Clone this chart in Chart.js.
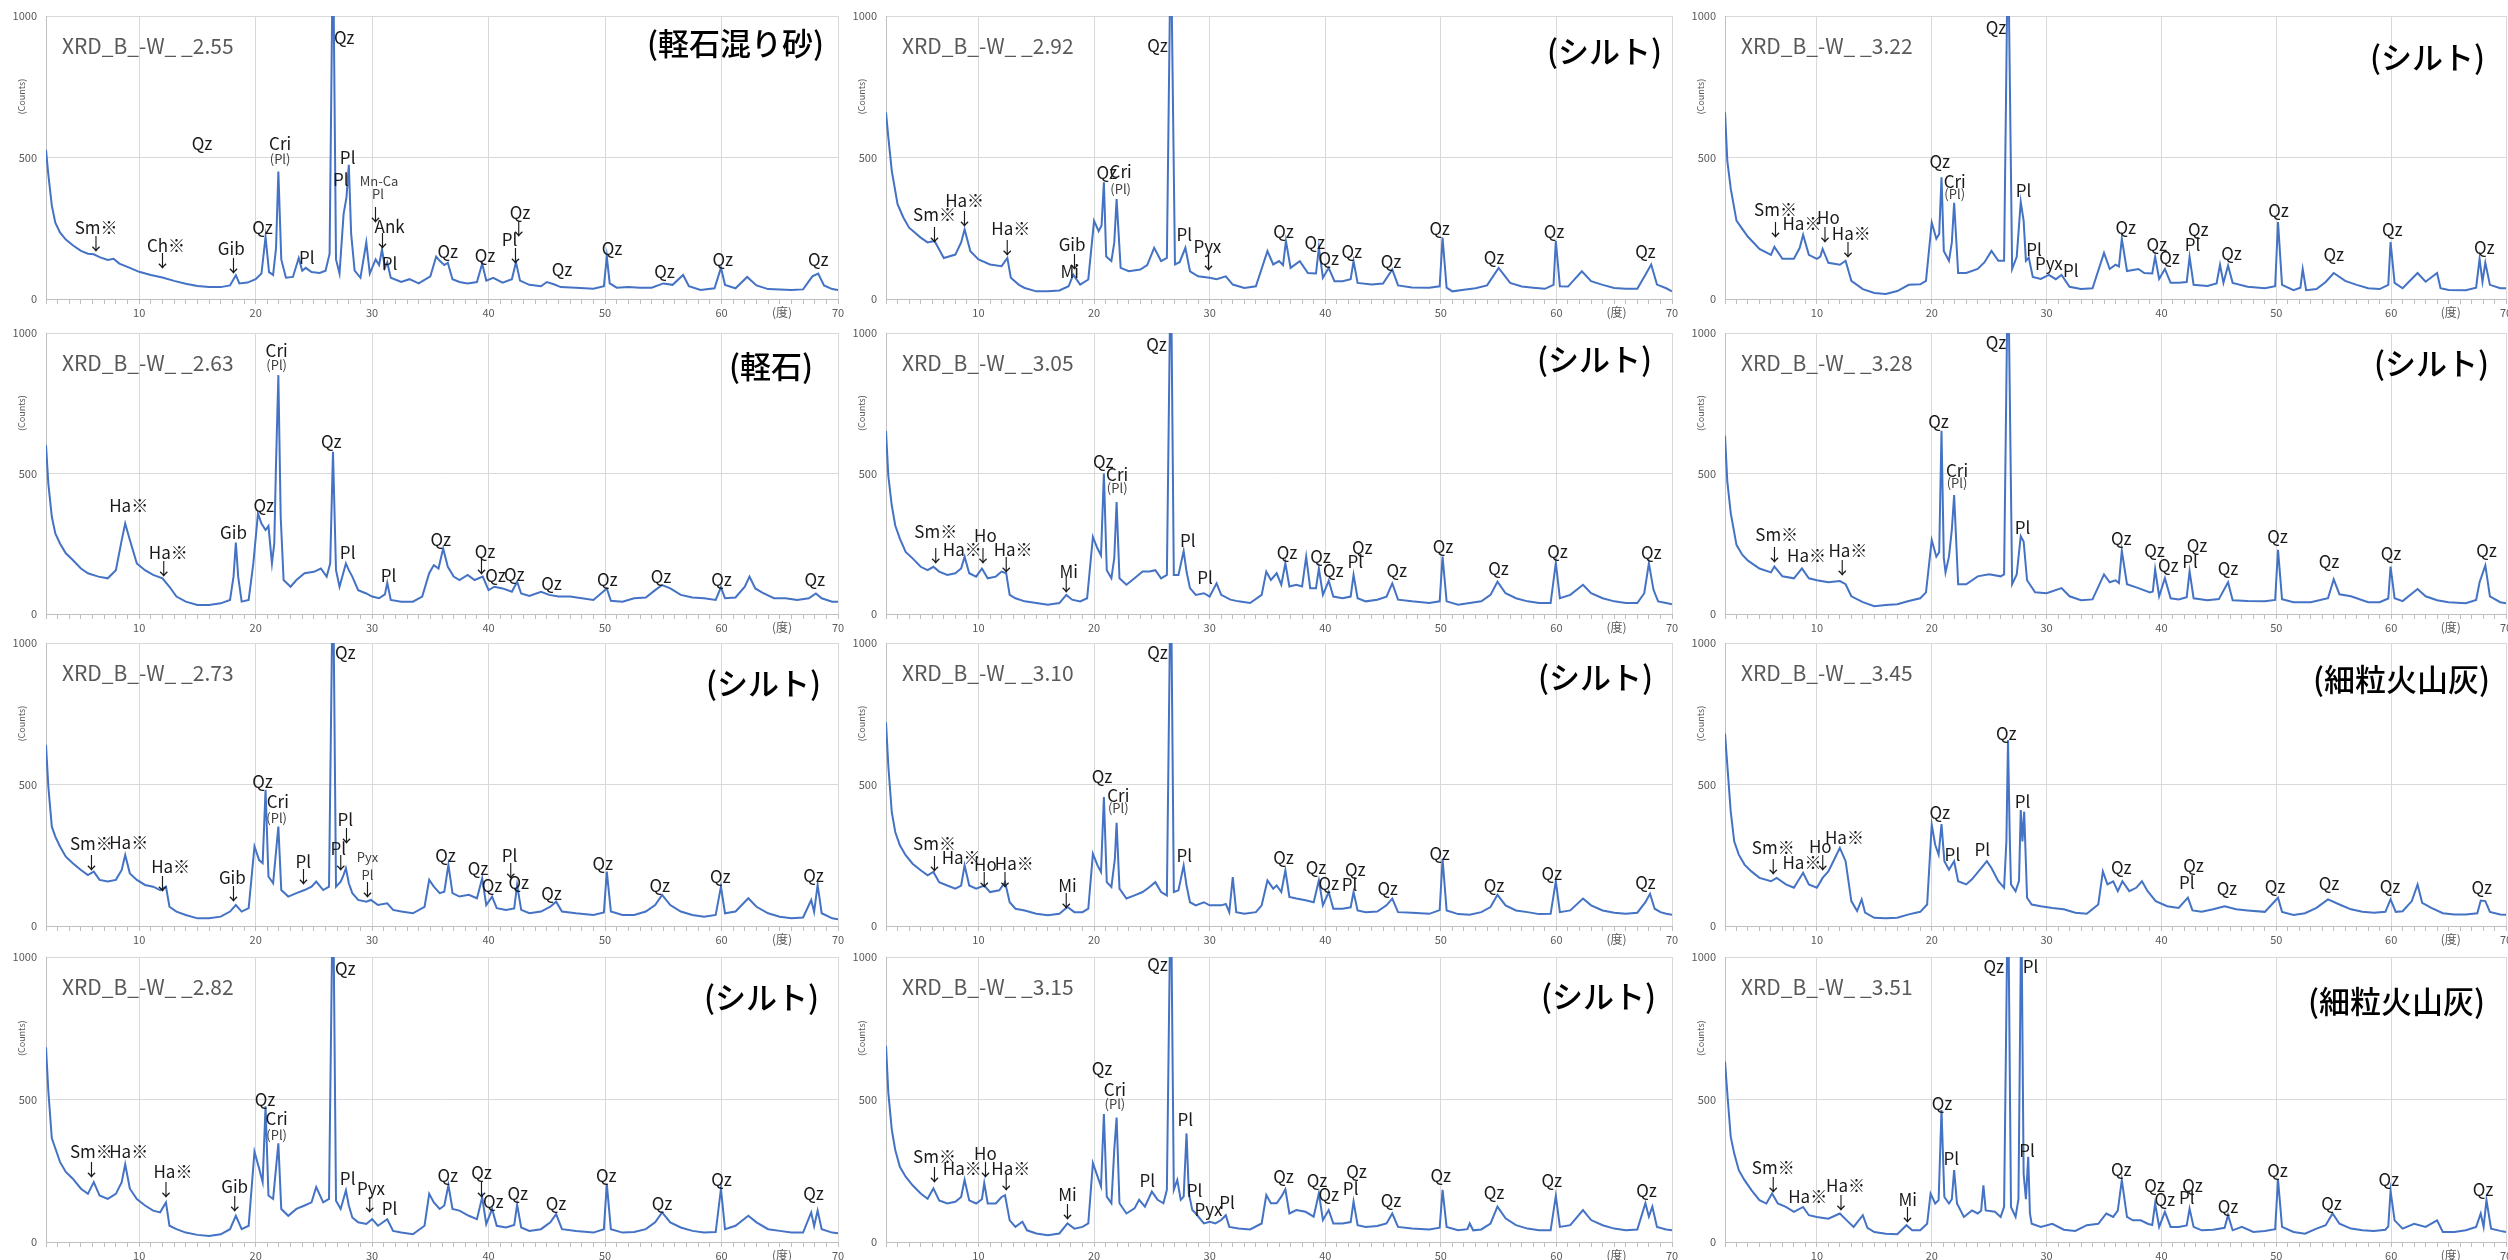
<!DOCTYPE html>
<html>
<head>
<meta charset="utf-8">
<script src="https://cdn.jsdelivr.net/npm/chart.js@4.4.1/dist/chart.umd.min.js"></script>
<style>
html, body { margin: 0; padding: 0; background: #fff; width: 2508px; height: 1260px; overflow: hidden; }
canvas { position: absolute; }
</style>
</head>
<body>
<script>
// tick labels
const xMajorTicks = [10, 20, 30, 40, 50, 60, 70];
const yTicks = [0, 500, 1000];

// sample ids and soil names (column by column)
const sampleIds = ['2.55', '2.63', '2.73', '2.82', '2.92', '3.05', '3.10', '3.15', '3.22', '3.28', '3.45', '3.51'];
const soilNames = ['(軽石混り砂)', '(軽石)', '(シルト)', '(シルト)', '(シルト)', '(シルト)', '(シルト)', '(シルト)', '(シルト)', '(シルト)', '(細粒火山灰)', '(細粒火山灰)'];

// diffraction patterns: [2theta (deg), counts]
const xrd_255 = [[2,527],[2.2,440],[2.5,330],[2.8,270],[3.2,235],[3.7,210],[4.3,190],[5,170],[5.6,160],[6.1,158],[6.6,148],[7.3,138],[7.8,142],[8.3,125],[9.2,110],[10,96],[11,85],[12,76],[13,64],[14,54],[15,46],[16,42],[17,42],[17.8,48],[18.3,84],[18.6,55],[19.3,58],[20,70],[20.5,90],[20.85,220],[21.15,95],[21.5,85],[21.75,180],[21.95,450],[22.2,140],[22.6,75],[23.2,78],[23.7,145],[24,100],[24.3,110],[24.8,95],[25.5,92],[26,100],[26.35,160],[26.64,1300],[26.9,140],[27.2,90],[27.55,300],[27.8,360],[28,474],[28.2,230],[28.5,100],[29,75],[29.5,200],[29.8,90],[30.3,140],[30.6,120],[30.85,175],[31.1,110],[31.3,130],[31.6,75],[32.5,60],[33.2,70],[34,55],[35,80],[35.5,150],[35.8,135],[36.2,120],[36.5,128],[36.9,70],[37.5,60],[38.2,55],[39,60],[39.45,125],[39.8,65],[40.4,75],[41.2,58],[42,70],[42.35,130],[42.7,65],[43.5,50],[44.5,45],[45,60],[45.6,52],[46.2,42],[47.5,40],[49,36],[49.9,45],[50.15,150],[50.4,55],[51,40],[52,42],[53,40],[54,40],[55,55],[55.8,50],[56.7,85],[57.2,45],[58.2,32],[59.4,38],[59.95,110],[60.3,50],[61.2,38],[62.2,78],[63,48],[64,35],[65,34],[66,32],[67,34],[67.8,80],[68.3,90],[68.8,48],[69.5,35],[70,32]];
const xrd_263 = [[2,601],[2.2,464],[2.5,346],[2.8,287],[3.2,251],[3.7,216],[4.3,192],[5,162],[5.6,145],[6.5,133],[7.3,127],[8,156],[8.5,263],[8.8,322],[9.2,263],[9.8,180],[10.5,156],[11.2,139],[12,127],[12.6,97],[13.2,62],[14,44],[15,32],[16,32],[17,38],[17.8,50],[18.1,133],[18.3,254],[18.5,133],[18.8,44],[19.4,50],[19.8,180],[20.2,358],[20.5,322],[20.85,299],[21.1,313],[21.4,180],[21.6,251],[21.75,536],[21.95,850],[22.15,346],[22.4,121],[23,97],[23.5,121],[24.2,145],[25,150],[25.6,162],[26.1,133],[26.4,180],[26.64,577],[26.9,156],[27.2,97],[27.75,180],[28,156],[28.3,133],[28.8,85],[29.5,73],[30,62],[30.6,56],[31.1,70],[31.3,111],[31.6,50],[32.5,44],[33.5,44],[34.3,62],[34.9,145],[35.3,174],[35.7,162],[36.1,233],[36.5,168],[37,133],[37.5,121],[38.2,139],[38.8,121],[39.5,133],[40,85],[40.5,97],[41.2,91],[42,79],[42.45,115],[42.8,73],[43.5,64],[44.5,79],[45.2,68],[46,62],[47,62],[48,56],[49,50],[50.15,91],[50.5,47],[51.5,44],[52.5,56],[53.5,59],[54.3,85],[54.9,103],[55.6,91],[56.5,68],[57.5,59],[58.5,56],[59.5,50],[59.95,95],[60.3,56],[61.2,59],[62,97],[62.4,133],[62.9,91],[63.5,76],[64.5,56],[65.5,56],[66.5,50],[67.5,56],[68.1,73],[68.6,56],[69.5,44],[70,44]];
const xrd_273 = [[2,640],[2.2,493],[2.5,351],[2.8,316],[3.2,281],[3.7,245],[4.3,222],[5,198],[5.6,180],[6.1,192],[6.6,163],[7.3,157],[8,163],[8.5,198],[8.8,251],[9.2,186],[9.8,163],[10.5,145],[11.2,139],[11.8,127],[12.3,139],[12.6,68],[13.2,51],[14,39],[15,27],[16,27],[17,33],[17.8,51],[18.3,74],[18.8,51],[19.4,63],[19.9,281],[20.3,233],[20.6,222],[20.85,481],[21.1,175],[21.5,151],[21.95,351],[22.2,127],[22.8,104],[23.5,116],[24.2,127],[24.8,139],[25.2,157],[25.8,127],[26.3,139],[26.64,1300],[26.9,139],[27.3,157],[27.5,175],[27.75,204],[28,151],[28.3,116],[28.8,92],[29.5,86],[29.9,92],[30.5,74],[31.3,80],[31.8,57],[32.5,51],[33.5,45],[34.5,68],[34.9,163],[35.3,139],[35.8,116],[36.2,121],[36.55,216],[36.9,116],[37.5,104],[38.3,110],[39,98],[39.45,169],[39.8,74],[40.3,104],[40.7,63],[41.5,57],[42.2,62],[42.45,145],[42.8,57],[43.5,45],[44.5,51],[45.3,68],[45.8,86],[46.3,51],[47.5,45],[49,39],[49.9,48],[50.15,192],[50.5,51],[51.5,39],[52.5,39],[53.5,51],[54.3,74],[54.9,110],[55.6,74],[56.5,51],[57.5,39],[58.5,33],[59.5,39],[59.95,139],[60.3,45],[61.2,51],[62.3,98],[63,68],[64,45],[65,33],[66,27],[67,30],[67.7,92],[67.95,50],[68.25,145],[68.6,45],[69.5,27],[70,24]];
const xrd_282 = [[2,683],[2.2,530],[2.5,364],[2.8,329],[3.2,281],[3.7,246],[4.3,222],[5,187],[5.6,169],[6.1,210],[6.6,163],[7.3,151],[8,169],[8.5,210],[8.8,273],[9.2,187],[9.8,151],[10.5,128],[11.2,110],[11.8,104],[12.3,139],[12.6,57],[13.2,45],[14,33],[15,25],[16,21],[17,27],[17.8,45],[18.3,92],[18.8,45],[19.4,57],[19.9,317],[20.3,258],[20.6,210],[20.85,476],[21.1,163],[21.5,151],[21.95,346],[22.2,116],[22.8,92],[23.5,116],[24.2,128],[24.8,139],[25.2,193],[25.8,139],[26.3,151],[26.64,1300],[26.9,145],[27.3,116],[27.75,181],[28,128],[28.3,86],[28.8,69],[29.5,63],[30,80],[30.5,57],[31.3,80],[31.8,39],[32.5,33],[33.5,27],[34.5,57],[34.9,169],[35.3,139],[35.8,116],[36.2,128],[36.55,199],[36.9,116],[37.5,110],[38.3,92],[39,80],[39.45,157],[39.8,63],[40.3,116],[40.7,57],[41.5,51],[42.2,60],[42.45,131],[42.8,51],[43.5,39],[44.5,45],[45.3,69],[45.8,98],[46.3,45],[47.5,39],[49,33],[49.9,45],[50.15,204],[50.5,45],[51.5,33],[52.5,35],[53.5,45],[54.3,69],[54.9,104],[55.6,69],[56.5,51],[57.5,39],[58.5,33],[59.5,35],[59.95,187],[60.3,45],[61.2,57],[62.3,92],[63,69],[64,45],[65,39],[66,33],[67,33],[67.7,104],[67.95,55],[68.25,110],[68.6,45],[69.5,33],[70,31]];
const xrd_292 = [[2,660],[2.2,572],[2.5,453],[3,335],[3.5,288],[4,252],[5,217],[5.6,200],[6.2,205],[7,145],[8,157],[8.5,200],[8.8,246],[9.3,169],[10,140],[11,122],[12,116],[12.5,145],[12.8,75],[13.5,50],[14,39],[15,27],[16,27],[17,30],[17.8,45],[18.2,86],[18.8,51],[19.5,69],[20,276],[20.4,240],[20.65,260],[20.85,412],[21.05,150],[21.5,134],[21.75,200],[21.95,353],[22.3,110],[23,98],[24,104],[24.6,120],[25.2,181],[25.8,134],[26.3,145],[26.64,1300],[27,122],[27.4,130],[27.9,181],[28.3,98],[29,80],[30,75],[30.6,70],[31.4,80],[32,51],[33,39],[34,45],[35,169],[35.5,122],[36,134],[36.35,120],[36.6,205],[37,110],[37.8,134],[38.5,92],[39.2,90],[39.45,181],[39.8,75],[40.3,110],[40.8,63],[41.5,63],[42.2,70],[42.45,134],[42.8,57],[44,51],[45,55],[45.8,104],[46.3,48],[47.5,41],[49,40],[49.9,45],[50.15,217],[50.5,40],[51,27],[52,33],[53,38],[54,48],[55,110],[56,57],[57,44],[58,40],[59,36],[59.75,50],[59.95,205],[60.3,45],[61,44],[62.2,98],[63,63],[64,50],[65,39],[66,36],[67,36],[67.7,86],[68.2,122],[68.7,51],[69.5,38],[70,27]];
const xrd_305 = [[2,651],[2.2,492],[2.5,386],[2.8,315],[3.2,268],[3.7,221],[4.3,198],[5,168],[5.6,156],[6.1,168],[6.6,151],[7.3,139],[8,145],[8.5,162],[8.8,204],[9.2,145],[9.8,133],[10.3,162],[10.8,127],[11.5,133],[12,151],[12.4,145],[12.7,68],[13.2,56],[14,45],[15,39],[16,33],[17,39],[17.6,68],[18.1,51],[18.8,45],[19.4,56],[19.9,274],[20.3,233],[20.6,209],[20.85,500],[21.1,156],[21.5,127],[21.75,200],[21.95,398],[22.2,127],[22.8,104],[23.5,127],[24.2,151],[24.8,151],[25.3,156],[25.8,127],[26.3,139],[26.64,1300],[26.9,139],[27.3,139],[27.75,224],[28,151],[28.3,92],[28.8,68],[29.5,74],[30,62],[30.6,109],[31,68],[31.8,51],[32.5,45],[33.5,39],[34.5,68],[34.9,151],[35.3,121],[35.8,145],[36.2,104],[36.55,180],[36.9,98],[37.5,104],[38,98],[38.35,204],[38.7,92],[39.2,92],[39.45,162],[39.8,68],[40.3,118],[40.7,62],[41.5,56],[42.2,62],[42.45,139],[42.8,56],[43.5,45],[44.5,51],[45.3,62],[45.8,109],[46.3,51],[47.5,45],[49,39],[49.9,45],[50.15,204],[50.5,45],[51.5,33],[52.5,39],[53.5,45],[54.3,68],[54.9,115],[55.6,74],[56.5,56],[57.5,45],[58.5,39],[59.5,39],[59.95,182],[60.3,56],[61.2,68],[62.3,104],[63,74],[64,56],[65,45],[66,39],[67,39],[67.6,74],[68,180],[68.4,86],[68.8,45],[69.5,39],[70,35]];
const xrd_310 = [[2,720],[2.2,566],[2.5,402],[2.8,332],[3.2,285],[3.7,250],[4.3,220],[5,197],[5.6,179],[6.1,191],[6.6,155],[7.3,143],[8,132],[8.5,143],[8.8,214],[9.2,143],[9.8,132],[10.5,143],[11,120],[11.8,126],[12.3,155],[12.7,84],[13.2,61],[14,55],[15,43],[16,38],[17,43],[17.7,67],[18.3,49],[19,49],[19.5,61],[19.9,255],[20.3,214],[20.6,191],[20.85,456],[21.1,155],[21.5,138],[21.8,237],[21.95,365],[22.2,132],[22.8,97],[23.5,108],[24.2,120],[24.8,138],[25.3,155],[25.8,120],[26.3,108],[26.64,1300],[26.9,120],[27.3,126],[27.75,214],[28,143],[28.3,84],[28.8,73],[29.5,84],[30,73],[31,73],[31.4,78],[31.7,49],[32,173],[32.3,49],[33,43],[34,49],[34.5,73],[35,161],[35.5,132],[35.8,143],[36.2,120],[36.55,197],[36.9,103],[37.5,97],[38.3,91],[39,84],[39.45,161],[39.8,73],[40.3,120],[40.7,61],[41.5,61],[42.2,66],[42.45,120],[42.8,55],[43.5,49],[44.5,51],[45.3,73],[45.8,97],[46.3,49],[47.5,47],[49,43],[49.9,56],[50.15,237],[50.5,55],[51.5,42],[52.5,40],[53.5,49],[54.3,67],[54.9,110],[55.6,73],[56.5,55],[57.5,49],[58.5,42],[59.5,43],[59.95,158],[60.3,49],[61.2,55],[62.3,97],[63,73],[64,55],[65,47],[66,43],[67,47],[67.7,84],[68.1,114],[68.5,61],[69,49],[69.5,43],[70,40]];
const xrd_315 = [[2,689],[2.2,524],[2.5,394],[2.8,323],[3.2,264],[3.7,229],[4.3,199],[5,170],[5.6,152],[6.1,188],[6.6,146],[7.3,135],[8,141],[8.5,158],[8.8,218],[9.2,146],[9.8,135],[10.3,150],[10.5,207],[10.8,135],[11.5,135],[12,158],[12.3,164],[12.7,76],[13.2,53],[13.8,71],[14.2,41],[15,30],[16,24],[17,30],[17.7,65],[18.3,47],[19,53],[19.5,65],[19.9,277],[20.3,230],[20.6,195],[20.85,449],[21.1,159],[21.5,136],[21.75,325],[21.95,437],[22.2,136],[22.8,100],[23.5,118],[23.9,148],[24.4,124],[25,177],[25.5,148],[26,136],[26.3,183],[26.64,1300],[26.9,183],[27.2,218],[27.5,148],[27.75,159],[28,381],[28.2,171],[28.5,112],[28.8,100],[29.5,65],[30,71],[30.5,65],[31,77],[31.4,94],[31.7,53],[32.5,47],[33.5,44],[34.5,65],[34.9,165],[35.3,136],[35.8,136],[36.2,159],[36.55,185],[36.9,100],[37.5,112],[38.3,106],[39,89],[39.45,171],[39.8,77],[40.3,112],[40.7,65],[41.5,65],[42.2,70],[42.45,142],[42.8,59],[43.5,53],[44.5,56],[45.3,65],[45.8,100],[46.3,53],[47.5,47],[49,44],[49.9,50],[50.15,183],[50.5,53],[51.5,41],[52.3,45],[52.5,65],[52.8,41],[53.5,44],[54.3,65],[54.9,124],[55.6,83],[56.5,59],[57.5,47],[58.5,41],[59.5,41],[59.95,162],[60.3,53],[61.2,59],[62.3,112],[63,77],[64,59],[65,47],[66,41],[67,44],[67.7,136],[68,89],[68.3,124],[68.7,53],[69.5,44],[70,41]];
const xrd_322 = [[2,660],[2.2,489],[2.5,390],[3,277],[3.5,248],[4,220],[5,177],[6,156],[6.3,184],[7,142],[8,142],[8.5,180],[8.8,227],[9.3,156],[10,142],[10.3,150],[10.5,177],[11,128],[12,121],[12.5,135],[13,64],[14,35],[15,21],[16,18],[17,28],[18,50],[19,52],[19.5,64],[20,270],[20.4,213],[20.65,230],[20.85,430],[21.05,170],[21.5,135],[21.75,200],[21.95,340],[22.3,92],[23,92],[24,106],[24.6,130],[25.2,170],[25.8,135],[26.3,135],[26.64,1300],[27,106],[27.4,149],[27.75,343],[28,277],[28.2,135],[28.45,146],[28.8,78],[29.5,71],[30.2,85],[30.8,70],[31.3,85],[32,43],[33,35],[34,38],[35,163],[35.5,106],[36,121],[36.3,115],[36.55,213],[37,99],[38,106],[38.5,92],[39.2,90],[39.45,149],[39.8,71],[40.3,106],[40.8,57],[41.5,57],[42.2,60],[42.45,149],[42.8,50],[44,46],[44.8,55],[45.1,121],[45.4,57],[45.8,118],[46.2,57],[47.5,43],[49,38],[49.9,45],[50.15,272],[50.5,50],[51.5,31],[52.1,40],[52.3,106],[52.6,31],[53.5,35],[54.3,60],[55,92],[56,64],[57,50],[58,38],[59,35],[59.75,50],[59.95,201],[60.3,57],[61,38],[62.3,92],[63,61],[64,92],[64.3,38],[65,32],[66.5,31],[67.4,40],[67.7,142],[67.95,61],[68.2,128],[68.6,50],[69.5,38],[70,38]];
const xrd_328 = [[2,634],[2.2,472],[2.5,359],[3,246],[3.5,211],[4,190],[5,162],[6,148],[6.3,169],[7,134],[8,127],[8.7,162],[9.3,127],[10,120],[11,113],[12,117],[12.5,106],[13,63],[14,42],[15,28],[16,32],[17,35],[18,46],[19,56],[19.5,77],[20,263],[20.4,204],[20.65,220],[20.85,652],[21.05,200],[21.2,148],[21.5,204],[21.75,300],[21.95,423],[22.3,106],[23,106],[24,134],[25,141],[26,134],[26.3,141],[26.64,1300],[27,106],[27.4,141],[27.75,277],[28,258],[28.3,120],[29,77],[30,74],[31.3,92],[32,63],[33,49],[34,52],[35,141],[35.5,113],[36,120],[36.3,110],[36.55,225],[37,106],[38,92],[39,77],[39.25,80],[39.45,159],[39.8,63],[40.3,127],[40.8,56],[41.5,52],[42.2,60],[42.45,152],[42.8,56],[44,49],[45,53],[45.8,113],[46.2,49],[47.5,46],[49,45],[49.9,50],[50.15,228],[50.5,53],[51.5,42],[53,42],[54.5,56],[55,123],[55.5,70],[56.5,63],[58,42],[59,42],[59.75,55],[59.95,169],[60.3,56],[61,46],[62.3,89],[63,63],[64,49],[65,42],[66.5,38],[67.4,50],[67.7,113],[68.2,173],[68.6,63],[69.5,42],[70,38]];
const xrd_345 = [[2,680],[2.2,569],[2.5,404],[2.8,299],[3.2,252],[3.7,217],[4.3,193],[5,170],[6,158],[6.5,170],[7.3,147],[8,135],[8.8,188],[9.3,147],[10,135],[10.5,170],[11,193],[11.5,234],[12,276],[12.5,229],[13,88],[13.5,53],[13.9,94],[14.2,47],[15,29],[16,27],[17,29],[18,41],[19,50],[19.6,76],[20,358],[20.3,287],[20.6,252],[20.85,360],[21.1,229],[21.5,199],[21.95,229],[22.3,158],[23,147],[23.5,165],[24.2,199],[24.8,229],[25.2,205],[25.8,158],[26.3,135],[26.5,300],[26.64,657],[26.8,300],[26.9,147],[27.3,123],[27.6,160],[27.75,410],[27.9,299],[28.05,404],[28.3,100],[28.7,76],[29.5,70],[30.5,64],[31.5,59],[32.5,47],[33.5,43],[34.5,76],[34.9,193],[35.3,147],[35.8,158],[36.2,123],[36.6,158],[37.2,123],[37.8,135],[38.3,158],[38.8,123],[39.5,88],[40.5,70],[41.5,64],[42.3,100],[42.7,55],[43.5,50],[44.5,59],[45.5,70],[46.5,59],[47.5,55],[49,50],[50.15,100],[50.5,50],[51.5,39],[52.5,45],[53.5,64],[54.5,94],[55.5,76],[56.5,59],[57.5,50],[58.5,47],[59.5,50],[59.95,94],[60.4,50],[61,52],[61.8,88],[62.3,147],[62.7,82],[63.5,64],[64.5,45],[65.5,41],[66.5,41],[67.5,45],[67.8,90],[68.2,88],[68.6,50],[69.5,41],[70,40]];
const xrd_351 = [[2,633],[2.2,522],[2.5,369],[2.8,311],[3.2,252],[3.7,217],[4.3,182],[5,147],[5.6,135],[6.1,170],[6.6,135],[7.3,123],[8,106],[8.8,123],[9.3,94],[10,88],[11,82],[12,100],[12.6,76],[13.2,53],[14,94],[14.4,50],[15,35],[16,29],[17,27],[17.8,59],[18.3,41],[19,41],[19.6,64],[19.9,170],[20.3,135],[20.6,147],[20.85,463],[21.1,158],[21.5,135],[21.75,150],[21.95,252],[22.2,135],[22.8,88],[23.5,111],[24,100],[24.3,110],[24.5,199],[24.7,111],[25.5,106],[26,88],[26.3,123],[26.64,1300],[26.9,123],[27.3,88],[27.55,150],[27.8,1200],[28,240],[28.2,150],[28.4,299],[28.55,100],[28.7,64],[29.5,53],[30.5,64],[31.5,43],[32.5,39],[33.5,59],[34.5,64],[35.2,100],[35.8,88],[36.2,110],[36.55,217],[37,88],[37.5,76],[38.2,76],[38.8,64],[39.2,60],[39.45,135],[39.8,53],[40.3,106],[40.8,53],[41.5,53],[42.2,58],[42.45,117],[42.8,53],[43.5,41],[44.5,43],[45.5,50],[45.8,94],[46.2,41],[47,53],[48,35],[49,39],[49.9,45],[50.15,219],[50.5,53],[51.5,35],[52.5,29],[53.5,47],[54.3,59],[54.9,100],[55.5,64],[56.5,47],[57.5,41],[58.5,39],[59.5,43],[59.75,55],[59.95,179],[60.3,76],[61,47],[62,64],[63,53],[64,76],[64.5,35],[65.5,35],[66.5,41],[67.4,53],[67.8,100],[68.05,53],[68.3,147],[68.7,47],[69.5,39],[70,35]];

// peak labels: [2theta, counts, text, small]
const tags_255 = [[6.3,254,'Sm※'],[6.3,195,'↓'],[12.3,190,'Ch※'],[12.0,135,'↓'],[17.9,180,'Gib'],[18.1,118,'↓'],[15.4,548,'Qz'],[20.6,254,'Qz'],[22.1,550,'Cri'],[22.1,494,'(Pl)',1],[27.6,925,'Qz'],[27.9,500,'Pl'],[27.3,421,'Pl'],[30.6,418,'Mn-Ca',1],[30.5,370,'Pl',1],[30.3,300,'↓'],[31.5,256,'Ank'],[30.9,205,'↓'],[31.5,127,'Pl'],[24.4,145,'Pl'],[36.5,166,'Qz'],[39.7,153,'Qz'],[42.7,304,'Qz'],[42.6,250,'↓'],[41.8,209,'Pl'],[42.3,155,'↓'],[46.3,104,'Qz'],[50.6,180,'Qz'],[55.1,98,'Qz'],[60.1,139,'Qz'],[68.3,139,'Qz']];
const tags_263 = [[9.1,387,'Ha※'],[12.5,219,'Ha※'],[12.1,160,'↓'],[18.1,289,'Gib'],[20.7,387,'Qz'],[21.8,938,'Cri'],[21.8,887,'(Pl)',1],[26.5,615,'Qz'],[27.9,218,'Pl'],[31.4,136,'Pl'],[35.9,265,'Qz'],[39.7,224,'Qz'],[39.4,170,'↓'],[40.6,136,'Qz'],[42.2,141,'Qz'],[45.4,109,'Qz'],[50.2,123,'Qz'],[54.8,135,'Qz'],[60.0,123,'Qz'],[68.0,121,'Qz']];
const tags_273 = [[27.7,965,'Qz'],[5.9,290,'Sm※'],[9.1,295,'Ha※'],[5.9,225,'↓'],[12.7,210,'Ha※'],[12.0,151,'↓'],[18.0,172,'Gib'],[18.1,116,'↓'],[20.6,509,'Qz'],[21.9,440,'Cri'],[21.8,382,'(Pl)',1],[24.1,228,'Pl'],[24.1,175,'↓'],[27.7,377,'Pl'],[27.8,320,'↓'],[27.1,275,'Pl'],[27.3,225,'↓'],[29.6,242,'Pyx',1],[29.6,179,'Pl',1],[29.6,128,'↓'],[36.3,248,'Qz'],[39.1,202,'Qz'],[40.3,142,'Qz'],[41.8,248,'Pl'],[41.9,195,'↓'],[42.6,153,'Qz'],[45.4,116,'Qz'],[49.8,222,'Qz'],[54.7,142,'Qz'],[59.9,175,'Qz'],[67.9,180,'Qz']];
const tags_282 = [[27.7,960,'Qz'],[5.9,317,'Sm※'],[9.1,317,'Ha※'],[5.9,255,'↓'],[12.9,246,'Ha※'],[12.3,183,'↓'],[18.2,196,'Gib'],[18.2,135,'↓'],[20.8,499,'Qz'],[21.8,433,'Cri'],[21.8,376,'(Pl)',1],[27.9,222,'Pl'],[29.9,189,'Pyx'],[29.8,132,'↓'],[31.5,116,'Pl'],[36.5,234,'Qz'],[39.4,243,'Qz'],[39.4,183,'↓'],[40.4,142,'Qz'],[42.5,169,'Qz'],[45.8,134,'Qz'],[50.1,234,'Qz'],[54.9,134,'Qz'],[60.0,219,'Qz'],[67.9,171,'Qz']];
const tags_292 = [[25.5,896,'Qz'],[6.2,297,'Sm※'],[6.2,226,'↓'],[8.8,347,'Ha※'],[8.8,285,'↓'],[12.8,249,'Ha※'],[12.5,183,'↓'],[18.1,193,'Gib'],[18.3,134,'↓'],[17.9,96,'Mi'],[21.1,447,'Qz'],[22.3,451,'Cri'],[22.3,388,'(Pl)',1],[27.8,226,'Pl'],[29.8,187,'Pyx'],[29.9,128,'↓'],[36.4,237,'Qz'],[39.1,201,'Qz'],[40.3,142,'Qz'],[42.3,169,'Qz'],[45.7,134,'Qz'],[49.9,249,'Qz'],[54.6,146,'Qz'],[59.8,237,'Qz'],[67.7,169,'Qz']];
const tags_305 = [[25.4,959,'Qz'],[6.3,295,'Sm※'],[6.3,209,'↓'],[8.6,231,'Ha※'],[10.6,278,'Ho'],[10.4,209,'↓'],[13.0,231,'Ha※'],[12.4,176,'↓'],[17.8,151,'Mi'],[17.6,104,'↓'],[20.8,542,'Qz'],[22.0,495,'Cri'],[22.0,448,'(Pl)',1],[28.1,260,'Pl'],[29.6,129,'Pl'],[36.7,218,'Qz'],[39.6,204,'Qz'],[40.7,154,'Qz'],[42.6,186,'Pl'],[43.2,236,'Qz'],[46.2,154,'Qz'],[50.2,239,'Qz'],[55.0,162,'Qz'],[60.1,221,'Qz'],[68.2,218,'Qz']];
const tags_310 = [[25.5,968,'Qz'],[6.2,291,'Sm※'],[6.2,220,'↓'],[8.5,241,'Ha※'],[10.6,216,'Ho'],[10.5,165,'↓'],[13.1,222,'Ha※'],[12.3,165,'↓'],[17.7,143,'Mi'],[17.6,90,'↓'],[20.7,529,'Qz'],[22.1,461,'Cri'],[22.1,416,'(Pl)',1],[27.8,249,'Pl'],[36.4,241,'Qz'],[39.2,205,'Qz'],[40.3,149,'Qz'],[42.1,145,'Pl'],[42.6,199,'Qz'],[45.4,132,'Qz'],[49.9,255,'Qz'],[54.6,143,'Qz'],[59.6,184,'Qz'],[67.7,155,'Qz']];
const tags_315 = [[25.5,974,'Qz'],[6.2,299,'Sm※'],[6.2,236,'↓'],[8.6,257,'Ha※'],[10.6,310,'Ho'],[10.6,254,'↓'],[12.8,257,'Ha※'],[12.4,207,'↓'],[17.7,165,'Mi'],[17.7,106,'↓'],[20.7,608,'Qz'],[21.8,535,'Cri'],[21.8,484,'(Pl)',1],[24.6,215,'Pl'],[27.9,428,'Pl'],[28.7,180,'Pl'],[29.9,115,'Pyx'],[31.5,140,'Pl'],[36.4,230,'Qz'],[39.3,215,'Qz'],[40.3,165,'Qz'],[42.2,186,'Pl'],[42.7,248,'Qz'],[45.7,144,'Qz'],[50.0,234,'Qz'],[54.6,173,'Qz'],[59.6,215,'Qz'],[67.8,181,'Qz']];
const tags_322 = [[25.6,960,'Qz'],[6.4,315,'Sm※'],[6.4,244,'↓'],[8.7,265,'Ha※'],[11.0,288,'Ho'],[10.7,228,'↓'],[13.0,230,'Ha※'],[12.7,175,'↓'],[20.7,485,'Qz'],[22.0,416,'Cri'],[22.0,370,'(Pl)',1],[28.0,383,'Pl'],[28.9,174,'Pl'],[30.2,125,'Pyx'],[32.1,99,'Pl'],[36.9,252,'Qz'],[39.6,191,'Qz'],[40.7,145,'Qz'],[42.7,191,'Pl'],[43.2,244,'Qz'],[46.1,160,'Qz'],[50.2,312,'Qz'],[55.0,156,'Qz'],[60.1,244,'Qz'],[68.1,182,'Qz']];
const tags_328 = [[25.6,965,'Qz'],[6.5,282,'Sm※'],[6.3,213,'↓'],[9.1,208,'Ha※'],[12.7,225,'Ha※'],[12.2,167,'↓'],[20.6,686,'Qz'],[22.2,510,'Cri'],[22.2,465,'(Pl)',1],[27.9,307,'Pl'],[36.5,268,'Qz'],[39.4,225,'Qz'],[40.6,173,'Qz'],[42.5,186,'Pl'],[43.1,244,'Qz'],[45.8,162,'Qz'],[50.1,275,'Qz'],[54.6,186,'Qz'],[60.0,215,'Qz'],[68.3,225,'Qz']];
const tags_345 = [[6.2,278,'Sm※'],[6.2,211,'↓'],[8.7,225,'Ha※'],[10.5,223,'↓'],[10.3,281,'Ho'],[12.4,314,'Ha※'],[20.7,401,'Qz'],[21.8,254,'Pl'],[24.4,270,'Pl'],[26.5,680,'Qz'],[27.9,440,'Pl'],[36.5,205,'Qz'],[42.8,215,'Qz'],[42.2,152,'Pl'],[45.7,131,'Qz'],[49.9,141,'Qz'],[54.6,149,'Qz'],[59.9,141,'Qz'],[67.9,135,'Qz']];
const tags_351 = [[6.2,261,'Sm※'],[6.2,203,'↓'],[9.2,158,'Ha※'],[12.5,199,'Ha※'],[12.1,137,'↓'],[17.9,149,'Mi'],[17.9,97,'↓'],[20.9,486,'Qz'],[21.7,293,'Pl'],[25.4,967,'Qz'],[28.6,967,'Pl'],[28.3,320,'Pl'],[36.5,254,'Qz'],[39.4,199,'Qz'],[40.3,149,'Qz'],[42.7,199,'Qz'],[42.2,155,'Pl'],[45.8,125,'Qz'],[50.1,252,'Qz'],[54.8,135,'Qz'],[59.8,219,'Qz'],[68.0,184,'Qz']];

const patterns = [xrd_255, xrd_263, xrd_273, xrd_282, xrd_292, xrd_305, xrd_310, xrd_315, xrd_322, xrd_328, xrd_345, xrd_351];
const peakTags = [tags_255, tags_263, tags_273, tags_282, tags_292, tags_305, tags_310, tags_315, tags_322, tags_328, tags_345, tags_351];

// page layout
const colCell = [0, 845, 1690];
const colWidth = [845, 845, 818];
const plotLeft = [46, 886, 1725];
const plotRight = [838, 1672, 2506];
const rowTop = [16, 333, 643, 957];
const rowBottom = [299, 614, 926, 1242];
const padTop = 14, axisH = 26;
// soil caption: offset below plot top, inset from plot right
const capDy = [27, 33, 40, 40, 35, 26, 34, 39, 41, 30, 36, 44];
const capInset = [14, 25, 17, 19, 10, 20, 19, 16, 21, 17, 16, 21];

const FONT = '"Noto Sans CJK JP", "Noto Sans", sans-serif';
Chart.defaults.font.family = FONT;

const minorTicks = [];
for (let d = 2; d <= 70; d++) minorTicks.push(d);

function decorations(i) {
  return {
    id: 'deco' + i,
    afterDatasetsDraw(chart) {
      const { ctx, chartArea: a, scales: { x, y } } = chart;
      ctx.save();
      ctx.textAlign = 'center';
      ctx.textBaseline = 'middle';
      for (const t of peakTags[i]) {
        if (t[3]) {
          ctx.font = '13px ' + FONT;
          ctx.fillStyle = '#404040';
        } else {
          ctx.font = '17px ' + FONT;
          ctx.fillStyle = '#1a1a1a';
        }
        ctx.fillText(t[2], x.getPixelForValue(t[0]), y.getPixelForValue(t[1]));
      }
      // sample title
      ctx.textAlign = 'left';
      ctx.font = '21px ' + FONT;
      ctx.fillStyle = '#595959';
      ctx.fillText('XRD_B_-W_ _' + sampleIds[i], a.left + 16, a.top + 30);
      // soil caption
      ctx.textAlign = 'right';
      ctx.font = '500 31px ' + FONT;
      ctx.fillStyle = '#000';
      ctx.fillText(soilNames[i], a.right - capInset[i], a.top + capDy[i]);
      // axis unit labels
      ctx.textAlign = 'center';
      ctx.font = '12px ' + FONT;
      ctx.fillStyle = '#595959';
      ctx.fillText('(度)', x.getPixelForValue(65.2), a.bottom + 13);
      ctx.translate(a.left - 24, y.getPixelForValue(715));
      ctx.rotate(-Math.PI / 2);
      ctx.font = '9px ' + FONT;
      ctx.fillText('(Counts)', 0, 0);
      ctx.restore();
    }
  };
}

document.addEventListener('DOMContentLoaded', function () {
  patterns.forEach(function (pattern, i) {
    const col = Math.floor(i / 4), row = i % 4;
    const canvas = document.createElement('canvas');
    canvas.width = colWidth[col];
    canvas.height = rowBottom[row] - rowTop[row] + padTop + axisH;
    canvas.style.left = colCell[col] + 'px';
    canvas.style.top = (rowTop[row] - padTop) + 'px';
    document.body.appendChild(canvas);

    new Chart(canvas.getContext('2d'), {
      type: 'line',
      data: {
        datasets: [{
          data: pattern,
          borderColor: '#4472C4',
          borderWidth: 2,
          pointRadius: 0,
          tension: 0
        }]
      },
      options: {
        responsive: false,
        animation: false,
        events: [],
        layout: { padding: { top: padTop, left: 0, bottom: 0, right: colCell[col] + colWidth[col] - plotRight[col] } },
        plugins: { legend: { display: false }, tooltip: { enabled: false } },
        scales: {
          x: {
            type: 'linear', min: 2, max: 70,
            afterBuildTicks: function (s) { s.ticks = minorTicks.map(v => ({ value: v })); },
            afterFit: function (s) { s.height = axisH; s.paddingLeft = 0; s.paddingRight = 0; },
            grid: {
              color: c => (c.tick && xMajorTicks.includes(c.tick.value)) ? '#d9d9d9' : 'rgba(0,0,0,0)',
              tickColor: '#bfbfbf',
              tickLength: 5
            },
            border: { color: '#bfbfbf' },
            ticks: {
              autoSkip: false, maxRotation: 0, minRotation: 0, padding: 2,
              color: '#595959', font: { size: 11 },
              callback: v => xMajorTicks.includes(v) ? String(v) : ''
            }
          },
          y: {
            min: 0, max: 1000,
            afterBuildTicks: function (s) { s.ticks = yTicks.map(v => ({ value: v })); },
            afterFit: function (s) { s.width = plotLeft[col] - colCell[col]; s.paddingTop = 0; s.paddingBottom = 0; },
            grid: { color: '#d9d9d9', drawTicks: false },
            border: { color: '#bfbfbf' },
            ticks: { padding: 9, color: '#595959', font: { size: 11 }, callback: v => String(v) }
          }
        }
      },
      plugins: [decorations(i)]
    });
  });
});
</script>
</body>
</html>
